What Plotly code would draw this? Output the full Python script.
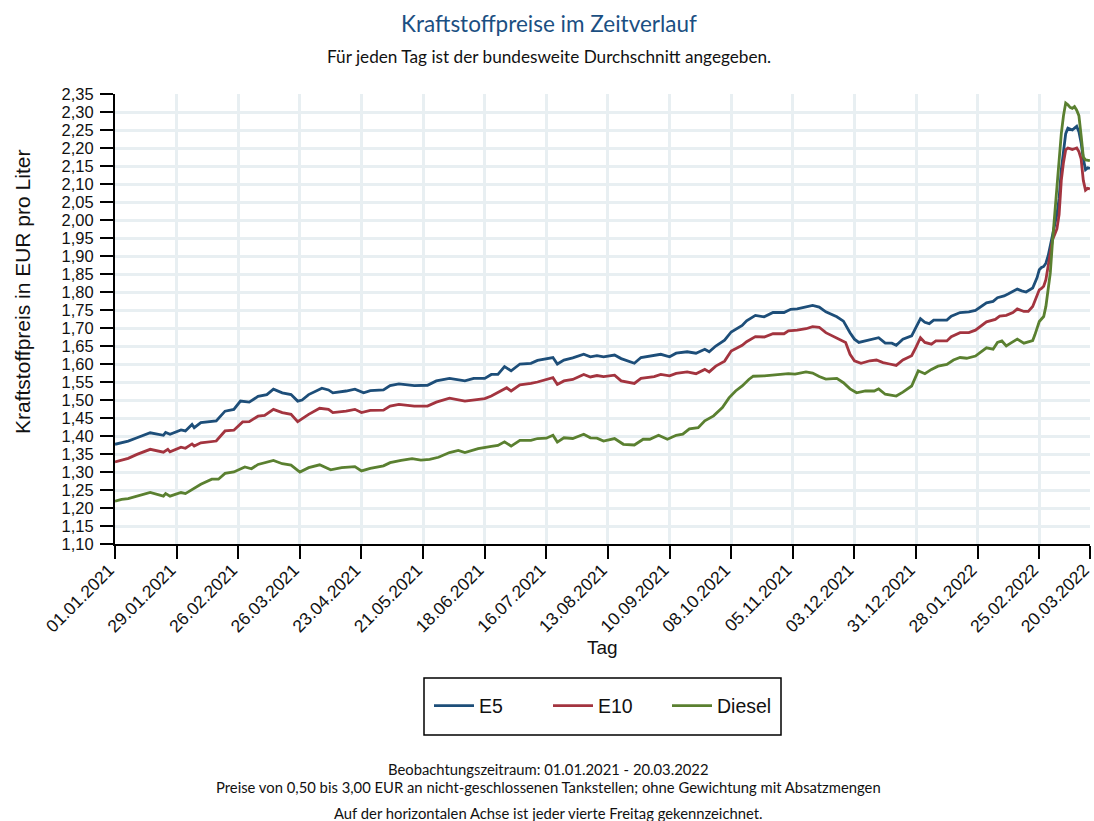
import pandas as pd
import plotly.graph_objects as go

START = "2021-01-01"

# Tage seit 01.01.2021 und Durchschnittspreise (EUR/Liter)
e5_days = [0, 6, 10, 16, 22, 23, 25, 30, 32, 35, 36, 39, 46, 50, 54, 57, 61, 65, 69, 72, 76, 80, 83, 85, 88,
           94, 97, 99, 105, 109, 113, 116, 122, 125, 129, 136, 142, 146, 152, 159, 163, 168, 171, 174, 177,
           180, 184, 189, 192, 196, 199, 201, 204, 208, 213, 216, 219, 222, 227, 230, 236, 239, 245, 248,
           252, 255, 260, 264, 268, 270, 273, 277, 280, 285, 287, 291, 295, 299, 304, 307, 310, 314, 317,
           320, 323, 328, 331, 334, 336, 338, 341, 344, 347, 350, 353, 355, 358, 362, 364, 366, 368, 370,
           372, 378, 380, 384, 388, 391, 396, 399, 401, 404, 406, 410, 412, 414, 417, 418, 419, 420, 421,
           422, 423, 424, 425, 426, 427, 428, 429, 430, 431, 432, 433, 434, 435, 436, 437, 438, 439, 440,
           441, 442, 443]
e5_values = [1.377, 1.386, 1.395, 1.409, 1.402, 1.410, 1.405, 1.417, 1.414, 1.432, 1.423, 1.437, 1.442,
             1.469, 1.474, 1.497, 1.494, 1.510, 1.515, 1.530, 1.520, 1.515, 1.497, 1.500, 1.515, 1.533,
             1.528, 1.520, 1.525, 1.530, 1.520, 1.526, 1.528, 1.540, 1.545, 1.540, 1.541, 1.553, 1.560,
             1.553, 1.560, 1.560, 1.571, 1.571, 1.593, 1.581, 1.600, 1.602, 1.610, 1.614, 1.618, 1.600,
             1.611, 1.617, 1.627, 1.620, 1.623, 1.620, 1.625, 1.615, 1.602, 1.618, 1.623, 1.627, 1.620,
             1.630, 1.634, 1.630, 1.641, 1.634, 1.650, 1.666, 1.689, 1.707, 1.720, 1.735, 1.731, 1.743,
             1.743, 1.752, 1.753, 1.758, 1.763, 1.758, 1.745, 1.731, 1.719, 1.687, 1.669, 1.660, 1.664,
             1.667, 1.673, 1.658, 1.658, 1.652, 1.669, 1.678, 1.700, 1.726, 1.716, 1.712, 1.722, 1.722,
             1.733, 1.743, 1.745, 1.749, 1.770, 1.774, 1.784, 1.789, 1.795, 1.808, 1.803, 1.800, 1.811,
             1.825, 1.840, 1.862, 1.868, 1.871, 1.880, 1.900, 1.927, 1.960, 1.990, 2.015, 2.060, 2.140,
             2.190, 2.240, 2.255, 2.253, 2.250, 2.255, 2.260, 2.245, 2.215, 2.170, 2.140, 2.145, 2.143]

e10_days = [0, 6, 10, 16, 22, 24, 25, 30, 32, 35, 36, 39, 46, 50, 54, 58, 61, 65, 68, 72, 76, 80, 83, 88,
            93, 97, 99, 105, 109, 112, 116, 122, 125, 129, 136, 142, 146, 152, 159, 163, 168, 171, 178,
            180, 184, 189, 192, 199, 201, 204, 208, 213, 216, 219, 222, 227, 230, 236, 239, 245, 248, 252,
            255, 260, 264, 268, 270, 273, 277, 280, 285, 287, 291, 295, 299, 304, 306, 310, 314, 317, 320,
            323, 328, 332, 334, 336, 339, 343, 346, 349, 352, 355, 358, 362, 364, 366, 368, 371, 373, 378,
            380, 384, 388, 391, 396, 400, 402, 405, 408, 410, 413, 415, 417, 418, 419, 420, 421, 422, 423,
            424, 425, 426, 427, 428, 429, 430, 431, 432, 433, 434, 435, 436, 437, 438, 439, 440, 441, 442,
            443]
e10_values = [1.328, 1.338, 1.349, 1.363, 1.355, 1.363, 1.356, 1.369, 1.366, 1.378, 1.372, 1.381, 1.386,
              1.414, 1.416, 1.439, 1.440, 1.455, 1.457, 1.474, 1.465, 1.460, 1.440, 1.460, 1.477, 1.474,
              1.465, 1.469, 1.474, 1.465, 1.471, 1.472, 1.483, 1.488, 1.483, 1.483, 1.494, 1.505, 1.497,
              1.500, 1.504, 1.511, 1.534, 1.525, 1.542, 1.546, 1.550, 1.562, 1.543, 1.553, 1.557, 1.571,
              1.564, 1.568, 1.565, 1.569, 1.553, 1.546, 1.560, 1.565, 1.571, 1.567, 1.574, 1.578, 1.573,
              1.585, 1.578, 1.594, 1.608, 1.636, 1.652, 1.662, 1.676, 1.675, 1.684, 1.684, 1.692, 1.694,
              1.698, 1.704, 1.702, 1.687, 1.673, 1.660, 1.627, 1.609, 1.602, 1.609, 1.611, 1.604, 1.600,
              1.596, 1.611, 1.623, 1.647, 1.673, 1.660, 1.655, 1.664, 1.664, 1.676, 1.687, 1.687, 1.694,
              1.717, 1.724, 1.733, 1.735, 1.743, 1.753, 1.746, 1.746, 1.760, 1.775, 1.790, 1.806, 1.810,
              1.816, 1.834, 1.870, 1.908, 1.945, 1.960, 1.975, 2.015, 2.110, 2.160, 2.195, 2.200, 2.198,
              2.196, 2.198, 2.200, 2.190, 2.170, 2.110, 2.083, 2.088, 2.086]

diesel_days = [0, 3, 6, 10, 16, 22, 23, 25, 30, 32, 35, 39, 44, 47, 50, 54, 59, 62, 65, 68, 72, 76, 80, 84,
               88, 93, 98, 103, 109, 112, 116, 122, 125, 130, 135, 139, 143, 147, 152, 156, 159, 165, 169,
               171, 174, 177, 180, 184, 189, 192, 196, 199, 201, 204, 208, 213, 216, 219, 222, 227, 231,
               236, 240, 243, 247, 251, 255, 258, 261, 265, 268, 272, 276, 279, 282, 285, 288, 290, 295,
               299, 306, 309, 314, 317, 320, 323, 328, 331, 334, 337, 341, 345, 347, 350, 355, 358, 362,
               365, 368, 371, 374, 378, 381, 384, 387, 391, 396, 399, 401, 403, 405, 407, 410, 413, 416,
               417, 418, 419, 420, 421, 422, 423, 424, 425, 426, 427, 428, 429, 430, 431, 432, 433, 434,
               435, 436, 437, 438, 439, 440, 441, 442, 443]
diesel_values = [1.219, 1.224, 1.226, 1.233, 1.243, 1.233, 1.240, 1.233, 1.243, 1.240, 1.252, 1.266,
                 1.280, 1.280, 1.296, 1.300, 1.314, 1.309, 1.321, 1.326, 1.332, 1.323, 1.319, 1.300,
                 1.312, 1.320, 1.306, 1.312, 1.315, 1.303, 1.310, 1.317, 1.326, 1.332, 1.337, 1.333,
                 1.335, 1.341, 1.354, 1.360, 1.354, 1.365, 1.368, 1.371, 1.374, 1.384, 1.372, 1.388,
                 1.388, 1.393, 1.394, 1.402, 1.383, 1.395, 1.393, 1.405, 1.395, 1.394, 1.386, 1.393,
                 1.377, 1.375, 1.391, 1.391, 1.402, 1.391, 1.402, 1.405, 1.420, 1.423, 1.442, 1.456,
                 1.479, 1.506, 1.525, 1.539, 1.557, 1.566, 1.567, 1.569, 1.573, 1.572, 1.578, 1.575,
                 1.565, 1.558, 1.560, 1.548, 1.531, 1.520, 1.525, 1.525, 1.531, 1.516, 1.511, 1.522,
                 1.539, 1.581, 1.573, 1.585, 1.594, 1.599, 1.611, 1.618, 1.616, 1.622, 1.645, 1.641,
                 1.660, 1.664, 1.650, 1.658, 1.669, 1.658, 1.662, 1.665, 1.681, 1.700, 1.718, 1.725,
                 1.732, 1.760, 1.800, 1.853, 1.940, 2.020, 2.080, 2.170, 2.240, 2.290, 2.325, 2.320,
                 2.313, 2.310, 2.315, 2.305, 2.290, 2.235, 2.175, 2.167, 2.166, 2.165]

tick_days = [0, 28, 56, 84, 112, 140, 168, 196, 224, 252, 280, 308, 336, 364, 392, 420, 443]
tick_labels = ["01.01.2021", "29.01.2021", "26.02.2021", "26.03.2021", "23.04.2021", "21.05.2021",
               "18.06.2021", "16.07.2021", "13.08.2021", "10.09.2021", "08.10.2021", "05.11.2021",
               "03.12.2021", "31.12.2021", "28.01.2022", "25.02.2022", "20.03.2022"]

series = [("E5", e5_days, e5_values, "#1d4e79"),
          ("E10", e10_days, e10_values, "#a3343f"),
          ("Diesel", diesel_days, diesel_values, "#5a8030")]


def to_dates(days):
    return pd.Timestamp(START) + pd.to_timedelta(days, unit="D")


fig = go.Figure()
for name, d, v, c in series:
    fig.add_trace(go.Scatter(x=to_dates(d), y=v, name=name, mode="lines",
                             line=dict(color=c, width=2.8)))

ARIAL = "Liberation Sans, Arial, sans-serif"
text_font = dict(family="Lato, sans-serif", color="#111111")

x_end = to_dates([443])[0] + pd.Timedelta(minutes=60)

fig.update_layout(
    width=1094, height=821,
    margin=dict(l=115, r=4, t=94, b=277, autoexpand=False),
    paper_bgcolor="white", plot_bgcolor="white",
    separators=",.",
    title=dict(text="Kraftstoffpreise im Zeitverlauf", xref="container", x=549 / 1094, xanchor="center",
               yref="container", y=1 - 24 / 821, yanchor="middle",
               font=dict(family="Lato, sans-serif", size=22.5, color="#1b4f82")),
    xaxis=dict(type="date", range=[to_dates([0])[0], x_end], automargin=False,
               tickmode="array", tickvals=to_dates(tick_days), ticktext=tick_labels,
               tickangle=-45, tickfont=dict(family=ARIAL, size=17.5, color="#111111"),
               ticks="outside", ticklen=13, tickwidth=2, ticklabelstandoff=-6,
               ticklabelshift=-6, ticklabeloverflow="allow",
               tickcolor="black", showline=True, linecolor="black", linewidth=2,
               showgrid=True, gridcolor="#e8eff2", gridwidth=2.5, zeroline=False),
    yaxis=dict(range=[1.10, 2.35], tickmode="linear", tick0=1.10, dtick=0.05, tickformat=".2f",
               automargin=False,
               tickfont=dict(family=ARIAL, size=16.5, color="#111111"),
               ticks="outside", ticklen=13, tickwidth=2, tickcolor="black",
               ticklabelstandoff=3,
               showline=True, linecolor="black", linewidth=2, showgrid=True,
               gridcolor="#e8eff2", gridwidth=2.5, zeroline=False),
    showlegend=True,
    legend=dict(orientation="h", x=0.5 + 5 / 975, xanchor="center", y=-0.36, yanchor="middle",
                borderwidth=0, bgcolor="rgba(0,0,0,0)",
                font=dict(family=ARIAL, size=19.5, color="#111111"),
                itemwidth=40, entrywidth=64, entrywidthmode="pixels"),
)

# Rahmen der Legende
fig.add_shape(type="rect", xref="paper", yref="paper",
              x0=(424 - 115) / 975, x1=(781 - 115) / 975, y0=-191 / 450, y1=-134 / 450,
              line=dict(color="black", width=1.5), fillcolor="rgba(0,0,0,0)", layer="above")

annotations = [
    dict(text="Für jeden Tag ist der bundesweite Durchschnitt angegeben.", x=0.445, y=1.0844,
         font=dict(size=17.2, **text_font)),
    dict(text="Tag", x=0.5, y=-0.231, font=dict(family=ARIAL, size=19, color="#111111")),
    dict(text="Kraftstoffpreis in EUR pro Liter", x=-0.0954, y=0.56, textangle=-90,
         font=dict(family=ARIAL, size=21, color="#111111")),
    dict(text="Beobachtungszeitraum: 01.01.2021 - 20.03.2022", x=0.445, y=-0.5,
         font=dict(size=14.8, **text_font)),
    dict(text="Preise von 0,50 bis 3,00 EUR an nicht-geschlossenen Tankstellen; ohne Gewichtung mit Absatzmengen",
         x=0.445, y=-0.54, font=dict(size=14.8, **text_font)),
    dict(text="Auf der horizontalen Achse ist jeder vierte Freitag gekennzeichnet.", x=0.445, y=-0.598,
         font=dict(size=14.8, **text_font)),
]
for a in annotations:
    fig.add_annotation(xref="paper", yref="paper", showarrow=False, xanchor="center", yanchor="middle", **a)

fig.write_html("out.html", config={"displayModeBar": False},
               post_script="document.body.style.margin='0';document.body.style.overflow='hidden';")
